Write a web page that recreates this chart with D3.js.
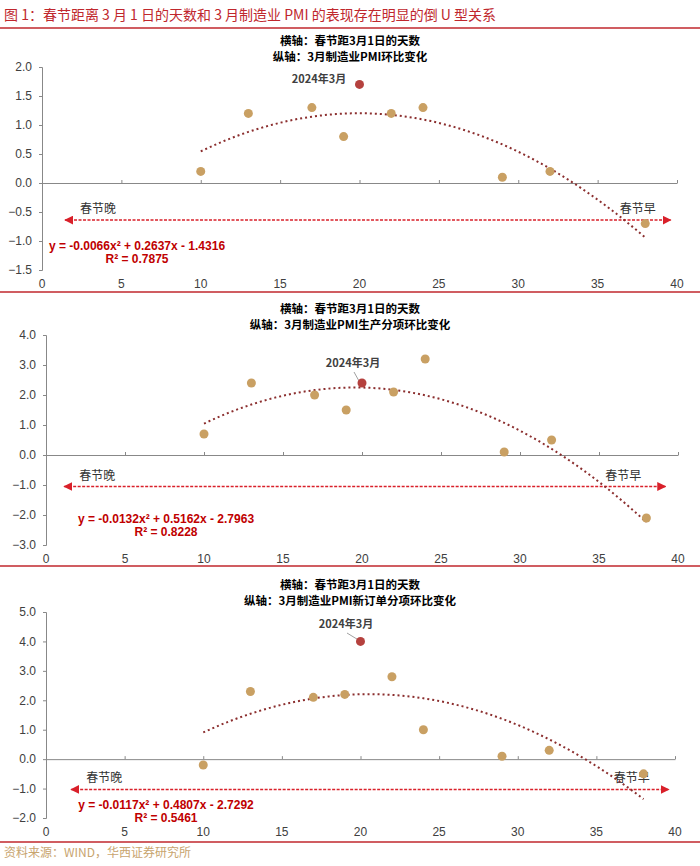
<!DOCTYPE html>
<html>
<head>
<meta charset="utf-8">
<script src="https://cdn.jsdelivr.net/npm/d3@7/dist/d3.min.js"></script>
<style>
  body { margin: 0; background: #fff; }
  svg { display: block; font-family: "Liberation Sans", Arial, "Noto Sans CJK SC", sans-serif; }
</style>
</head>
<body>
<svg id="chart" width="700" height="866"></svg>
<script>
// 横轴：春节距3月1日的天数
var days = [10, 13, 17, 19, 20, 22, 24, 29, 32, 38];
var pmiTotal = [0.2, 1.2, 1.3, 0.8, 1.7, 1.2, 1.3, 0.1, 0.2, -0.7];
var pmiProd = [0.7, 2.4, 2.0, 1.5, 2.4, 2.1, 3.2, 0.1, 0.5, -2.1];
var pmiOrder = [-0.2, 2.3, 2.1, 2.2, 4.0, 2.8, 1.0, 0.1, 0.3, -0.5];
var highlightDay = 20; // 2024年3月

var coefTotal = [-0.0066, 0.2637, -1.4316];
var coefProd = [-0.0132, 0.5162, -2.7963];
var coefOrder = [-0.0117, 0.4807, -2.7292];

var xTicks = [0, 5, 10, 15, 20, 25, 30, 35, 40];
var yTicksTotal = [-1.5, -1.0, -0.5, 0.0, 0.5, 1.0, 1.5, 2.0];
var yTicksProd = [-3, -2, -1, 0, 1, 2, 3, 4];
var yTicksOrder = [-2, -1, 0, 1, 2, 3, 4, 5];

var svg = d3.select("#chart");
var red = "#c00000";

// 顶部标题
svg.append("text").attr("x", 4).attr("y", 20)
    .style("font-family", "'Noto Sans CJK SC', sans-serif")
    .style("font-size", "14px").attr("fill", "#c0272d")
    .text("图 1：春节距离 3 月 1 日的天数和 3 月制造业 PMI 的表现存在明显的倒 U 型关系");
svg.append("line").attr("x1", 0).attr("x2", 700).attr("y1", 28).attr("y2", 28)
    .attr("stroke", "#c0272d").attr("stroke-width", 1.5);

function drawPanel(p) {
    var g = svg.append("g");
    var x = d3.scaleLinear().domain([0, 40]).range(p.xr);
    var y = d3.scaleLinear().domain(p.yd).range(p.yr);

    // 标题
    g.append("text").attr("x", 350).attr("y", p.t1).attr("text-anchor", "middle")
        .style("font-family", "'Noto Sans CJK SC', sans-serif")
        .style("font-size", "11.5px").style("font-weight", "bold").text("横轴：春节距3月1日的天数");
    g.append("text").attr("x", 350).attr("y", p.t1 + 16).attr("text-anchor", "middle")
        .style("font-family", "'Noto Sans CJK SC', sans-serif")
        .style("font-size", "11.5px").style("font-weight", "bold").text(p.sub);

    // y 轴
    var ya = g.append("g").attr("transform", "translate(" + p.xr[0] + ",0)")
        .call(d3.axisLeft(y).tickValues(p.yt).tickSize(3).tickFormat(d3.format(".1f")));
    ya.select(".domain").attr("stroke", "#888");
    ya.selectAll(".tick line").attr("stroke", "#888");
    ya.selectAll("text").attr("fill", "#404040").style("font-size", "12px").attr("x", -10);

    // x 轴 (在 0 处)
    var xa = g.append("g").attr("transform", "translate(0," + y(0) + ")")
        .call(d3.axisTop(x).tickValues(xTicks).tickSize(3).tickSizeOuter(0).tickFormat(""));
    xa.select(".domain").attr("stroke", "#888");
    xa.selectAll(".tick line").attr("stroke", "#888");
    g.selectAll(".xl").data(xTicks).enter().append("text")
        .attr("x", function (d) { return x(d); }).attr("y", p.yr[0] + 18)
        .attr("text-anchor", "middle").attr("fill", "#404040").style("font-size", "12px")
        .text(function (d) { return d; });

    // 箭头
    var mid = "arr" + p.id;
    var defs = g.append("defs");
    defs.append("marker").attr("id", mid + "e").attr("viewBox", "0 0 10 10").attr("refX", 9).attr("refY", 5)
        .attr("markerWidth", 9).attr("markerHeight", 9).attr("markerUnits", "userSpaceOnUse").attr("orient", "auto")
        .append("path").attr("d", "M0,0L10,5L0,10Z").attr("fill", "#d9202a");
    defs.append("marker").attr("id", mid + "s").attr("viewBox", "0 0 10 10").attr("refX", 1).attr("refY", 5)
        .attr("markerWidth", 9).attr("markerHeight", 9).attr("markerUnits", "userSpaceOnUse").attr("orient", "auto")
        .append("path").attr("d", "M10,0L0,5L10,10Z").attr("fill", "#d9202a");
    g.append("line").attr("x1", x(p.arr[0])).attr("x2", x(p.arr[1]))
        .attr("y1", y(p.arrY)).attr("y2", y(p.arrY))
        .attr("stroke", "#d9202a").attr("stroke-width", 1.5).attr("stroke-dasharray", "3,1.5")
        .attr("marker-start", "url(#" + mid + "s)").attr("marker-end", "url(#" + mid + "e)");
    g.append("text").attr("x", x(p.arr[0]) + 15).attr("y", y(p.arrY) - 7)
        .style("font-family", "'Noto Sans CJK SC', sans-serif").style("font-size", "12px")
        .attr("fill", "#333").text("春节晚");
    g.append("text").attr("x", x(p.lateX)).attr("y", y(p.arrY) - 7)
        .style("font-family", "'Noto Sans CJK SC', sans-serif").style("font-size", "12px")
        .attr("fill", "#333").text("春节早");

    // 趋势线
    var c = p.coef;
    var xs = d3.range(10, 38.01, 0.5);
    g.append("path").datum(xs)
        .attr("d", d3.line().x(function (d) { return x(d); })
            .y(function (d) { return y(c[0] * d * d + c[1] * d + c[2]); }))
        .attr("fill", "none").attr("stroke", "#8b2e2e").attr("stroke-width", 2)
        .attr("stroke-dasharray", "2,3");

    // 2024年3月 标注
    var hv = p.vals[days.indexOf(highlightDay)];
    if (p.lead) {
        g.append("line").attr("x1", p.lead[0]).attr("y1", p.lead[1])
            .attr("x2", x(highlightDay) - 3).attr("y2", y(hv) - 2)
            .attr("stroke", "#888").attr("stroke-width", 0.8);
    }
    g.append("text").attr("x", p.lab[0]).attr("y", p.lab[1]).attr("text-anchor", "middle")
        .style("font-family", "'Noto Sans CJK SC', sans-serif")
        .style("font-size", "11px").style("font-weight", "bold").attr("fill", "#404040").text("2024年3月");

    // 散点
    g.selectAll("circle").data(days).enter().append("circle")
        .attr("cx", function (d) { return x(d); })
        .attr("cy", function (d, i) { return y(p.vals[i]); })
        .attr("r", 4.5)
        .attr("fill", function (d) { return d === highlightDay ? "#b5413e" : "#c9a063"; });

    // 公式
    var f = function (v) { return Math.abs(v).toFixed(4); };
    g.append("text").attr("x", p.eq[0]).attr("y", p.eq[1]).attr("text-anchor", "middle")
        .style("font-size", "12px").style("font-weight", "bold").attr("fill", red)
        .text("y = " + c[0].toFixed(4) + "x² + " + f(c[1]) + "x - " + f(c[2]));
    g.append("text").attr("x", p.eq[0]).attr("y", p.eq[1] + 13).attr("text-anchor", "middle")
        .style("font-size", "12px").style("font-weight", "bold").attr("fill", red)
        .text("R² = " + p.r2);

    // 分隔线
    g.append("line").attr("x1", 0).attr("x2", 700).attr("y1", p.sep).attr("y2", p.sep)
        .attr("stroke", "#c0272d").attr("stroke-width", 1.5);
}

drawPanel({ id: 1, sub: "纵轴：3月制造业PMI环比变化", t1: 45, xr: [42, 677], yd: [-1.5, 2.0], yr: [270, 67],
    yt: yTicksTotal, vals: pmiTotal, coef: coefTotal, r2: "0.7875", arr: [1.45, 39.6], arrY: -0.64,
    lateX: 36.4, lab: [319, 83], lead: null, eq: [137, 250], sep: 292 });
drawPanel({ id: 2, sub: "纵轴：3月制造业PMI生产分项环比变化", t1: 313, xr: [46, 678], yd: [-3, 4], yr: [545, 335],
    yt: yTicksProd, vals: pmiProd, coef: coefProd, r2: "0.8228", arr: [1.15, 39.2], arrY: -1.05,
    lateX: 35.4, lab: [353, 367], lead: [354, 372], eq: [166, 523], sep: 566 });
drawPanel({ id: 3, sub: "纵轴：3月制造业PMI新订单分项环比变化", t1: 589, xr: [46, 675], yd: [-2, 5], yr: [818, 612],
    yt: yTicksOrder, vals: pmiOrder, coef: coefOrder, r2: "0.5461", arr: [1.6, 39.6], arrY: -1.03,
    lateX: 36.1, lab: [346, 628], lead: [347, 633], eq: [166, 809], sep: 842 });

svg.append("text").attr("x", 4).attr("y", 857)
    .style("font-family", "'Noto Sans CJK SC', sans-serif")
    .style("font-size", "12px").attr("fill", "#c8a46e").text("资料来源：WIND，华西证券研究所");
</script>
</body>
</html>
